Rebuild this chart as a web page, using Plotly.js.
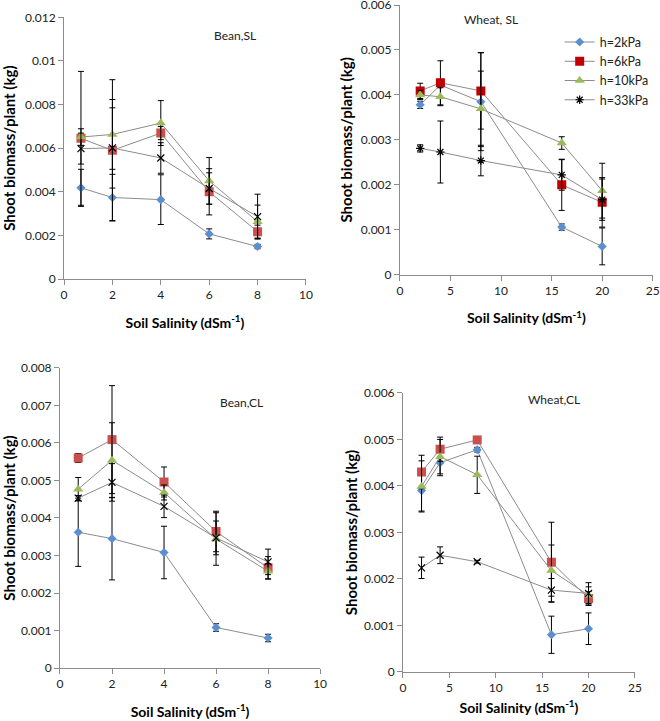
<!DOCTYPE html>
<html>
<head>
<meta charset="utf-8">
<script src="https://cdn.plot.ly/plotly-3.0.1.min.js"></script>
<style>
  body { margin: 0; background: #fff; }
  #chart { width: 660px; height: 721px; }
</style>
</head>
<body>
<div id="chart"></div>
<script>
// series names
const seriesNames = ['h=2kPa', 'h=6kPa', 'h=10kPa', 'h=33kPa'];

// salinity levels
const beanSalinity = [0.7, 2, 4, 6, 8];
const wheatSalinity = [2, 4, 8, 16, 20];

// Bean, SL (kg)
const beanSL = [
  [0.00418, 0.00374, 0.00364, 0.00207, 0.00149],
  [0.00645, 0.00590, 0.00669, 0.00400, 0.00217],
  [0.00651, 0.00663, 0.00715, 0.00450, 0.00263],
  [0.00598, 0.00601, 0.00555, 0.00415, 0.00286]
];
const beanSLErr = [
  [0.00085, 0.00106, 0.00114, 0.00023, 0.00010],
  [0.00307, 0.00324, 0.00030, 0.00106, 0.00030],
  [0.00038, 0.00160, 0.00103, 0.00107, 0.00076],
  [0.00071, 0.00184, 0.00070, 0.00072, 0.00103]
];

// Wheat, SL (kg)
const wheatSL = [
  [0.00378, 0.00422, 0.00385, 0.00106, 0.00063],
  [0.00409, 0.00427, 0.00409, 0.00200, 0.00161],
  [0.00400, 0.00396, 0.00369, 0.00293, 0.00187],
  [0.00281, 0.00273, 0.00254, 0.00222, 0.00167]
];
const wheatSLErr = [
  [0.00008, 0.00003, 0.00109, 0.00007, 0.00041],
  [0.00017, 0.00049, 0.00085, 0.00057, 0.00055],
  [0.00010, 0.00020, 0.00084, 0.00014, 0.00061],
  [0.00008, 0.00069, 0.00034, 0.00034, 0.00046]
];

// Bean, CL (kg)
const beanCL = [
  [0.00362, 0.00345, 0.00308, 0.00108, 0.00080],
  [0.00560, 0.00609, 0.00496, 0.00364, 0.00267],
  [0.00477, 0.00554, 0.00468, 0.00344, 0.00258],
  [0.00453, 0.00495, 0.00431, 0.00347, 0.00283]
];
const beanCLErr = [
  [0.00091, 0.00110, 0.00070, 0.00010, 0.00010],
  [0.00012, 0.00144, 0.00040, 0.00054, 0.00030],
  [0.00031, 0.00100, 0.00020, 0.00070, 0.00020],
  [0.00007, 0.00050, 0.00030, 0.00045, 0.00034]
];

// Wheat, CL (kg)
const wheatCL = [
  [0.00390, 0.00450, 0.00478, 0.00080, 0.00093],
  [0.00430, 0.00479, 0.00499, 0.00236, 0.00158],
  [0.00399, 0.00463, 0.00424, 0.00218, 0.00165],
  [0.00224, 0.00251, 0.00237, 0.00176, 0.00169]
];
const wheatCLErr = [
  [0.00044, 0.00028, 0.00005, 0.00040, 0.00034],
  [0.00036, 0.00026, 0.00003, 0.00086, 0.00015],
  [0.00055, 0.00037, 0.00040, 0.00055, 0.00018],
  [0.00023, 0.00018, 0.00003, 0.00025, 0.00023]
];

// tick labels
const beanSLTicks = ['0', '0.002', '0.004', '0.006', '0.008', '0.01', '0.012'];
const beanCLTicks = ['0', '0.001', '0.002', '0.003', '0.004', '0.005', '0.006', '0.007', '0.008'];
const wheatTicks = ['0', '0.001', '0.002', '0.003', '0.004', '0.005', '0.006'];
const beanXTicks = ['0', '2', '4', '6', '8', '10'];
const wheatXTicks = ['0', '5', '10', '15', '20', '25'];

const FONT = 'Lato, "Open Sans", sans-serif';
const lineColor = '#8c8c8c';
const symbols = ['diamond', 'square', 'triangle-up', 'x-thin-open'];
const colors = ['#5b8fcf', '#c9504d', '#9bbb59', '#000000'];
const sizes = [7, 9, 9, 7];

function panelTraces(xs, ys, errs, xa, ya, opts) {
  return ys.map((y, i) => {
    let sym = symbols[i], col = colors[i];
    if (opts.starBlack && i === 3) sym = 'asterisk-open';
    if (opts.darkRed && i === 1) col = '#c00000';
    return {
      type: 'scatter',
      mode: 'lines+markers',
      name: seriesNames[i],
      x: xs,
      y: y,
      xaxis: xa,
      yaxis: ya,
      showlegend: !!opts.legend,
      line: {color: lineColor, width: 1},
      marker: {symbol: sym, color: col, size: sizes[i],
               line: {color: col, width: i === 3 ? 1.2 : 0}},
      error_y: {type: 'data', array: errs[i], visible: true,
                color: '#000', thickness: 1, width: 3}
    };
  });
}

const data = [].concat(
  panelTraces(beanSalinity, beanSL, beanSLErr, 'x', 'y', {}),
  panelTraces(wheatSalinity, wheatSL, wheatSLErr, 'x2', 'y2', {legend: true, starBlack: true, darkRed: true}),
  panelTraces(beanSalinity, beanCL, beanCLErr, 'x3', 'y3', {}),
  panelTraces(wheatSalinity, wheatCL, wheatCLErr, 'x4', 'y4', {})
);

const tickFont = {family: FONT, size: 12, color: '#222'};
const xTitleFont = {family: FONT, size: 14, color: '#000', weight: 'bold'};
const yTitleFont = {family: FONT, size: 15, color: '#000', weight: 'bold'};
const xTitle = 'Soil Salinity (dSm<sup>-1</sup>)';
const yTitle = 'Shoot biomass/plant (kg)';

function xAxis(domain, anchor, ticks, step, standoff) {
  return {
    domain: domain, anchor: anchor,
    range: [0, (ticks.length - 1) * step],
    tickvals: ticks.map((t, i) => i * step), ticktext: ticks,
    showline: true, linecolor: lineColor, linewidth: 1,
    ticks: 'outside', ticklen: 5, tickcolor: lineColor,
    showgrid: false, zeroline: false, tickfont: tickFont,
    ticklabeloverflow: 'allow', automargin: false,
    title: {text: xTitle, font: xTitleFont, standoff: standoff}
  };
}
function yAxis(domain, anchor, ticks, step, standoff) {
  return {
    domain: domain, anchor: anchor,
    range: [0, (ticks.length - 1) * step],
    tickvals: ticks.map((t, i) => i * step), ticktext: ticks,
    showline: true, linecolor: lineColor, linewidth: 1,
    ticks: 'outside', ticklen: 5, tickcolor: lineColor,
    showgrid: false, zeroline: false, tickfont: tickFont,
    ticklabeloverflow: 'allow', automargin: false,
    title: {text: yTitle, font: yTitleFont, standoff: standoff}
  };
}

const layout = {
  width: 660,
  height: 721,
  margin: {l: 0, r: 0, t: 0, b: 0, autoexpand: false},
  paper_bgcolor: '#fff',
  plot_bgcolor: '#fff',
  font: {family: FONT, size: 12, color: '#222'},
  xaxis: xAxis([0.097, 0.4636], 'y', beanXTicks, 2, 16),
  yaxis: yAxis([0.613, 0.976], 'x', beanSLTicks, 0.002, 10),
  xaxis2: xAxis([0.606, 0.989], 'y2', wheatXTicks, 5, 16),
  yaxis2: yAxis([0.619, 0.993], 'x2', wheatTicks, 0.001, 4),
  xaxis3: xAxis([0.0909, 0.485], 'y3', beanXTicks, 2, 16),
  yaxis3: yAxis([0.0735, 0.4896], 'x3', beanCLTicks, 0.001, 7),
  xaxis4: xAxis([0.6106, 0.962], 'y4', wheatXTicks, 5, 8),
  yaxis4: yAxis([0.068, 0.455], 'x4', wheatTicks, 0.001, 2),
  legend: {
    x: 0.848, y: 0.962, xanchor: 'left', yanchor: 'top',
    font: {family: FONT, size: 12.5, color: '#222'},
    bgcolor: 'rgba(0,0,0,0)', tracegroupgap: 0, itemwidth: 30
  },
  annotations: [
    {text: 'Bean,SL', x: 212 / 660, y: 1 - 26 / 721, xref: 'paper', yref: 'paper', showarrow: false, font: {family: FONT, size: 12, color: '#222'}},
    {text: 'Wheat, SL', x: 520 / 660, y: 1 - 10 / 721, xref: 'paper', yref: 'paper', showarrow: false, font: {family: FONT, size: 12, color: '#222'}},
    {text: 'Bean,CL', x: 242 / 660, y: 1 - 402 / 721, xref: 'paper', yref: 'paper', showarrow: false, font: {family: FONT, size: 12, color: '#222'}},
    {text: 'Wheat,CL', x: 582 / 660, y: 1 - 399 / 721, xref: 'paper', yref: 'paper', showarrow: false, font: {family: FONT, size: 12, color: '#222'}}
  ]
};

Plotly.newPlot('chart', data, layout, {displayModeBar: false, staticPlot: true});
</script>
</body>
</html>
